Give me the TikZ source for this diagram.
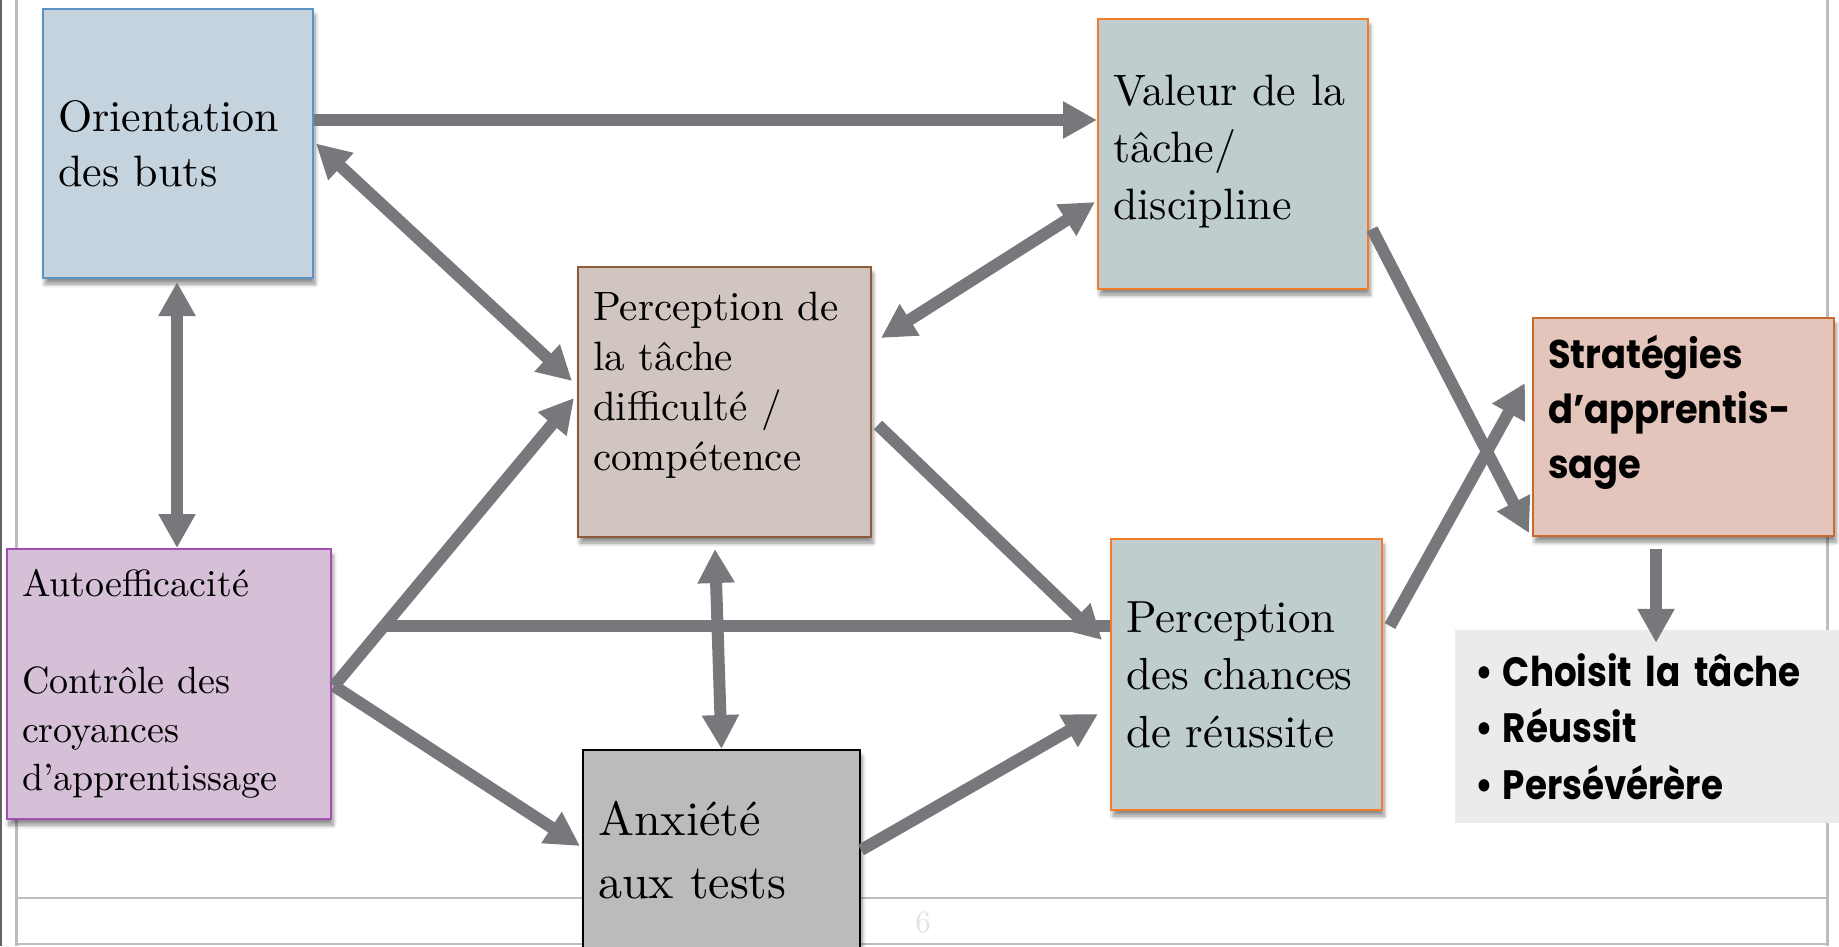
\documentclass[tikz,border=0pt]{standalone}
\usepackage{fontspec}
\setmainfont{lmroman10-regular}[Extension=.otf]
\newfontfamily\stratfont[FakeStretch=0.92]{Poppins}
\newfontfamily\resultfont[FakeStretch=0.87]{Poppins}
\usetikzlibrary{arrows.meta,calc,shadows.blur}

\definecolor{arrowgray}{HTML}{77787B}
\definecolor{framegray}{HTML}{BDBDBD}
\definecolor{framedark}{HTML}{5E6468}
\definecolor{pagegray}{HTML}{DDE3E6}
\definecolor{orientfill}{HTML}{C5D3DE}
\definecolor{orientborder}{HTML}{5B93C4}
\definecolor{valfill}{HTML}{BFCDCE}
\definecolor{valborder}{HTML}{F47B2A}
\definecolor{tachefill}{HTML}{D0C5BF}
\definecolor{tacheborder}{HTML}{8E5B3A}
\definecolor{autofill}{HTML}{D5C0D8}
\definecolor{autoborder}{HTML}{A64DB2}
\definecolor{anxfill}{HTML}{BBBBBB}
\definecolor{stratfill}{HTML}{E4C5BC}
\definecolor{stratborder}{HTML}{C66A2E}
\definecolor{resultfill}{HTML}{EBEBEB}

\tikzset{
  box/.style={rectangle, line width=2pt, inner xsep=15pt, align=left,
    blur shadow={shadow xshift=2pt, shadow yshift=-6pt, shadow blur steps=6,
      shadow blur radius=4pt, shadow opacity=45}},
  link/.style={line width=12pt, draw=arrowgray, -{Triangle[length=34pt,width=35pt]}},
  twoway/.style={link, {Triangle[length=34pt,width=35pt]}-{Triangle[length=34pt,width=35pt]}},
}

\begin{document}
\begin{tikzpicture}[x=1pt,y=-1pt]
    \useasboundingbox (0,0) rectangle (1839,946);
    \clip (0,0) rectangle (1839,946);

    % slide frame
    \draw[line width=2pt, framedark] (1,0) -- (1,946);
    \draw[line width=2.5pt, framegray] (16.5,0) -- (16.5,946);
    \draw[line width=2.5pt, framegray] (1827.5,0) -- (1827.5,946);
    \draw[line width=2.5pt, framegray] (16.5,898) -- (1827.5,898);
    \draw[line width=2.5pt, framegray] (16.5,944) -- (1827.5,944);
    \node[text=pagegray, font=\fontsize{31}{31}\selectfont] (pagenum) at (923,923) {6};

    \node[box, draw=orientborder, fill=orientfill, text width=240pt, minimum height=269pt,
          font=\fontsize{44}{55}\selectfont] (orient) at (178,143.5) {Orientation\\des buts};
    \node[box, draw=valborder, fill=valfill, text width=240pt, minimum height=270pt,
          font=\fontsize{44}{57}\selectfont] (valeur) at (1233,154)
          {Valeur de la\\tâche/\\discipline\rule[-14pt]{0pt}{1pt}};
    \node[box, draw=tacheborder, fill=tachefill, text width=263pt, minimum height=270pt,
          font=\fontsize{41}{50}\selectfont] (tache) at (724.5,402)
          {Perception de\\la tâche\\difficulté /\\compétence\rule[-42pt]{0pt}{1pt}};
    \node[box, draw=autoborder, fill=autofill, text width=294pt, minimum height=270pt,
          font=\fontsize{38}{48.5}\selectfont] (autoeff) at (169,684)
          {Autoefficacité\\[48.5pt]Contrôle des\\croyances\\d’apprentissage};
    \node[box, draw=black, fill=anxfill, text width=247pt, minimum height=200pt,
          font=\fontsize{48}{63}\selectfont] (anxiete) at (721.5,850) {Anxiété\\aux tests};
    \node[box, draw=valborder, fill=valfill, text width=241pt, minimum height=271pt,
          font=\fontsize{45}{57.5}\selectfont] (chances) at (1246.5,674.5)
          {Perception\\des chances\\de réussite};
    \node[box, draw=stratborder, fill=stratfill, text width=271pt, minimum height=218pt,
          font=\stratfont\bfseries\fontsize{40}{55}\selectfont] (strat) at (1683.5,427)
          {Stratégies\\d’apprentis-\\sage\rule[-40pt]{0pt}{1pt}};
    \node[rectangle, fill=resultfill, inner xsep=20pt, text width=350pt, minimum height=193pt,
          align=left, font=\resultfont\bfseries\fontsize{41}{56.5}\selectfont] (result) at (1650,726.5)
          {\textbullet\hspace{10pt}Choisit la tâche\\\textbullet\hspace{10pt}Réussit\\\textbullet\hspace{10pt}Persévérère};

    \draw[link] ([yshift=23.5pt]orient.east) -- ([yshift=23.5pt]orient.east -| valeur.west);
    \draw[twoway] ([xshift=2pt]orient.east) -- ([xshift=-5pt,yshift=21pt]tache.west);
    \draw[twoway] ([xshift=-1pt,yshift=-3pt]orient.south) -- ([xshift=-1pt]orient.south |- autoeff.north);
    \draw[link] ([xshift=2pt,yshift=-2pt]autoeff.east) -- ([xshift=-3pt,yshift=4pt]tache.west);
    \draw[link] ([xshift=2pt,yshift=-2pt]autoeff.east) -- ([xshift=-2pt,yshift=4pt]anxiete.west);
    \coordinate (branch) at ($([xshift=2pt,yshift=-2pt]autoeff.east)!0.21!([xshift=-3pt,yshift=4pt]tache.west)$);
    \draw[line width=12pt, arrowgray] (branch) -- (branch -| chances.west);
    \draw[link] ([xshift=6pt,yshift=-23pt]tache.east) -- ([xshift=-8pt,yshift=34.5pt]chances.west);
    \draw[twoway] ([xshift=9pt,yshift=64pt]tache.east) -- ([xshift=-2pt,yshift=-48pt]valeur.west);
    \draw[twoway] ([xshift=-9.5pt,yshift=-11pt]tache.south) -- (anxiete.north);
    \draw[link] ([yshift=0pt]anxiete.east) -- ([xshift=-12pt,yshift=-39.5pt]chances.west);
    \draw[link] ([xshift=3pt,yshift=-75pt]valeur.east) -- ([xshift=-3pt,yshift=4pt]strat.south west);
    \draw[link] ([xshift=7pt,yshift=48.5pt]chances.east) -- ([xshift=-7pt,yshift=44pt]strat.west);
    \draw[link] ([xshift=-27.5pt,yshift=-12pt]strat.south) -- ([xshift=-27.5pt,yshift=-13pt]strat.south |- result.north);
\end{tikzpicture}
\end{document}
